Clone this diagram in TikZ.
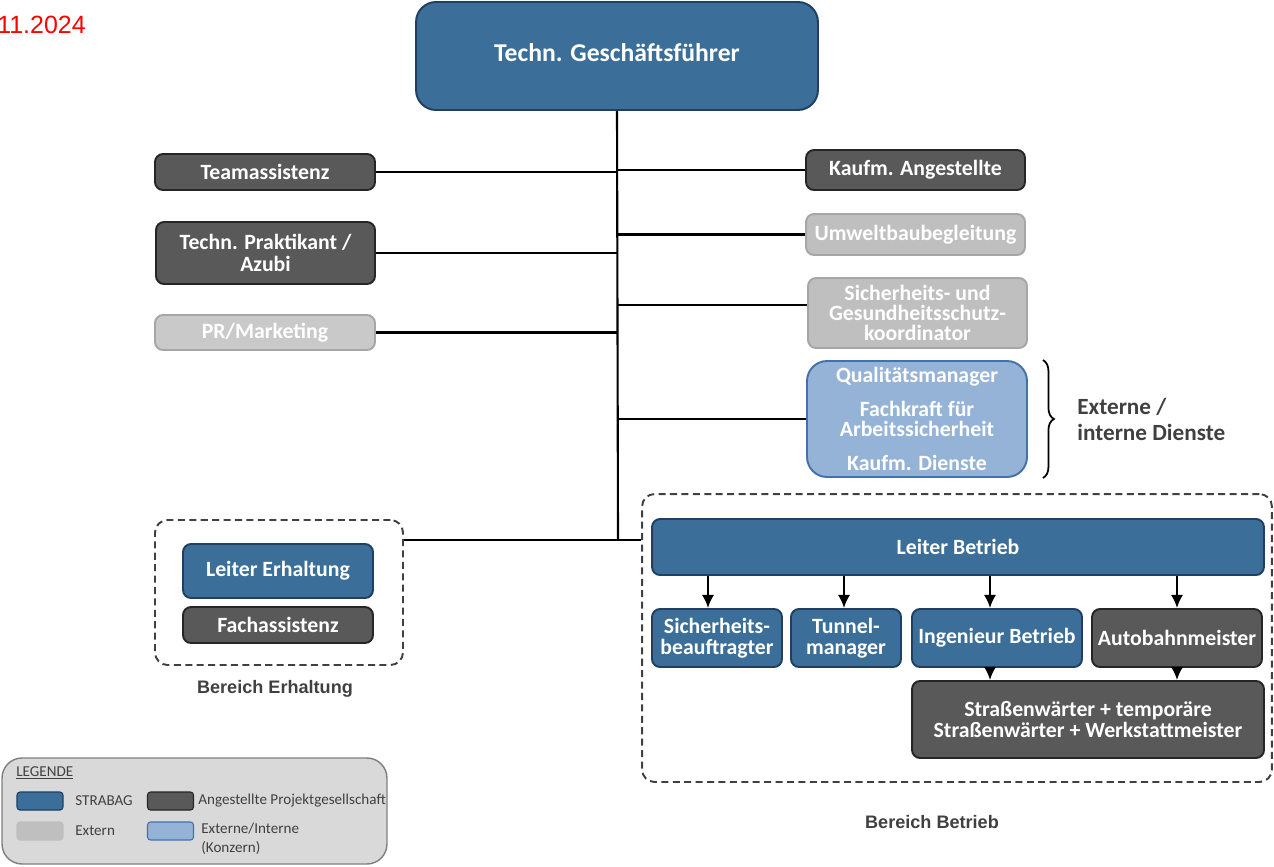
\documentclass[tikz,border=0pt]{standalone}
\usepackage{fontspec}
\setmainfont{Carlito}
\newfontfamily\arialf{Liberation Sans}
\usetikzlibrary{decorations.pathreplacing,arrows.meta}
\definecolor{sblue}{HTML}{3B6E98}
\definecolor{sblueD}{HTML}{1F3F63}
\definecolor{dgray}{HTML}{595959}
\definecolor{dgrayD}{HTML}{262626}
\definecolor{lgrayF}{HTML}{BFBFBF}
\definecolor{lgrayD}{HTML}{A6A6A6}
\definecolor{lblueF}{HTML}{95B3D7}
\definecolor{lblueD}{HTML}{4472A8}
\definecolor{legF}{HTML}{D9D9D9}
\definecolor{legD}{HTML}{7F7F7F}
\definecolor{txtgray}{HTML}{404040}
\begin{document}
\begin{tikzpicture}[x=0.02cm,y=-0.02cm,
  box/.style={rounded corners=0.16cm, draw, line width=1.1pt, align=center, text=white,
    font=\bfseries\fontsize{12.4}{12.4}\selectfont, inner sep=0pt},
  bluebox/.style={box, fill=sblue, draw=sblueD},
  darkbox/.style={box, fill=dgray, draw=dgrayD},
  greybox/.style={box, fill=lgrayF, draw=lgrayD},
  lbluebox/.style={box, fill=lblueF, draw=lblueD},
  conn/.style={line width=1.2pt, black},
  arr/.style={line width=1.2pt, black, -{Latex[length=7.5pt,width=7pt]}},
  area/.style={draw=txtgray, dashed, dash pattern=on 4pt off 2.5pt, line width=1.1pt, rounded corners=0.25cm},
  swatch/.style={rounded corners=0.06cm, line width=0.6pt, minimum width=0.92cm, minimum height=0.36cm, inner sep=0pt},
  legtext/.style={anchor=west, inner sep=0pt, text=txtgray, font=\fontsize{8.6}{10.5}\selectfont, align=left},
  arealabel/.style={font=\arialf\bfseries\fontsize{10.3}{12}\selectfont, text=txtgray}
]
\useasboundingbox (0,0) rectangle (1274,866);

% date
\node[anchor=west, text=red, font=\arialf\fontsize{14.2}{16}\selectfont, inner sep=0pt] (date) at (-3,25) {11.2024};

% title
\node[bluebox, rounded corners=0.4cm, minimum width=8.04cm, minimum height=2.16cm,
  font=\bfseries\fontsize{14.6}{16}\selectfont] (gf) at (617,56) {};
\node[text=white, font=\bfseries\fontsize{14.6}{16}\selectfont, inner sep=0pt] (gft) at (617,53) {Techn. Geschäftsführer};

% left column
\node[darkbox, minimum width=4.4cm, minimum height=0.72cm] (team) at (265,172) {Teamassistenz};
\node[darkbox, minimum width=4.38cm, minimum height=1.24cm] (prakt) at (265.5,253) {Techn. Praktikant /\\Azubi};
\node[greybox, fill=lgrayF!85!white, minimum width=4.4cm, minimum height=0.7cm] (pr) at (265,332.5) {PR/Marketing};

% right column
\node[darkbox, minimum width=4.38cm, minimum height=0.8cm] (kauf) at (915.5,170) {Kaufm. Angestellte};
\node[greybox, minimum width=4.38cm, minimum height=0.82cm] (umw) at (915.5,234.5) {Umweltbaubegleitung};
\node[greybox, minimum width=4.38cm, minimum height=1.4cm, font=\bfseries\fontsize{12.4}{11.4}\selectfont] (sig) at (917.5,313) {Sicherheits- und\\Gesundheitsschutz-\\koordinator};
\node[lbluebox, rounded corners=0.4cm, minimum width=4.4cm, minimum height=2.32cm, font=\bfseries\fontsize{12.4}{11.4}\selectfont] (qual) at (917,419) {Qualitätsmanager\\[0.28cm]Fachkraft für\\Arbeitssicherheit\\[0.28cm]Kaufm. Dienste};

% brace + label
\coordinate (b1) at ([xshift=0.3cm]qual.north east);
\coordinate (b2) at ([xshift=0.3cm]qual.south east);
\draw[line width=1pt, decorate, decoration={brace, amplitude=0.22cm}] (b1) -- (b2);
\node[anchor=west, align=left, inner sep=0pt, text=txtgray, font=\bfseries\fontsize{13.2}{14.8}\selectfont] (ext) at (1077,419) {Externe /\\interne Dienste};

% Bereich Erhaltung
\node[area, minimum width=4.96cm, minimum height=2.9cm] (erh) at (279,592.5) {};
\node[bluebox, minimum width=3.8cm, minimum height=1.08cm] (lerh) at (278,571) {Leiter Erhaltung};
\node[darkbox, minimum width=3.8cm, minimum height=0.72cm] (fach) at (278,625) {Fachassistenz};
\node[arealabel] (berh) at (275,689) {Bereich Erhaltung};

% Bereich Betrieb
\node[area, minimum width=12.6cm, minimum height=5.76cm] (betr) at (957,638) {};
\node[bluebox, minimum width=12.24cm, minimum height=1.12cm] (lb) at (958,547) {Leiter Betrieb};
\node[bluebox, minimum width=2.6cm, minimum height=1.16cm, font=\bfseries\fontsize{12.4}{11.6}\selectfont] (sib) at (717,638) {Sicherheits-\\beauftragter};
\node[bluebox, minimum width=2.2cm, minimum height=1.16cm, font=\bfseries\fontsize{12.4}{11.6}\selectfont] (tun) at (846,638) {Tunnel-\\manager};
\node[bluebox, minimum width=3.4cm, minimum height=1.16cm] (ing) at (997,638) {Ingenieur Betrieb};
\node[darkbox, minimum width=3.4cm, minimum height=1.16cm] (aut) at (1177,638) {Autobahnmeister};
\node[darkbox, minimum width=7.04cm, minimum height=1.54cm, font=\bfseries\fontsize{12.4}{12}\selectfont] (str) at (1088,719.5) {Straßenwärter + temporäre\\Straßenwärter + Werkstattmeister};
\node[arealabel] (bbetr) at (932,822) {Bereich Betrieb};

% trunk and branches
\coordinate (j) at (618,540);
\draw[conn] (gf.south) -- (j);
\draw[conn] (team.east) -- (team.east -| gf.south);
\draw[conn] (prakt.east) -- (prakt.east -| gf.south);
\draw[conn] (pr.east) -- (pr.east -| gf.south);
\draw[conn] (kauf.west -| gf.south) -- (kauf.west);
\draw[conn] (umw.west -| gf.south) -- (umw.west);
\coordinate (sigw) at ([yshift=0.16cm]sig.west);
\draw[conn] (sigw -| gf.south) -- (sigw);
\draw[conn] (qual.west -| gf.south) -- (qual.west);
\draw[conn] (erh.east |- j) -- (betr.west |- j);

% arrows in Betrieb
\coordinate (a1) at ([xshift=-0.18cm]sib.north);
\coordinate (a2) at ([xshift=-0.04cm]tun.north);
\coordinate (a3) at ([xshift=-0.14cm]ing.north);
\coordinate (a4) at ([xshift=-0.14cm]ing.south);
\draw[arr] (lb.south -| a1) -- (a1);
\draw[arr] (lb.south -| a2) -- (a2);
\draw[arr] (lb.south -| a3) -- (a3);
\draw[arr] (lb.south -| aut.north) -- (aut.north);
\draw[arr] (a4) -- (a4 |- str.north);
\draw[arr] (aut.south) -- (aut.south |- str.north);

% legend
\node[draw=legD, fill=legF, line width=0.8pt, rounded corners=0.4cm, minimum width=7.7cm, minimum height=2.12cm, inner sep=0pt] (leg) at (194.5,811) {};
\node[legtext] (legt) at (16,773) {\underline{LEGENDE}};
\node[swatch, fill=sblue, draw=sblueD] (s1) at (40,801) {};
\node[legtext] (t1) at (75,801) {STRABAG};
\node[swatch, fill=dgray, draw=dgrayD] (s2) at (170.5,801) {};
\node[legtext] (t2) at (198,801) {Angestellte Projektgesellschaft};
\node[swatch, fill=lgrayF, draw=lgrayF] (s3) at (40,831) {};
\node[legtext] (t3) at (75,831) {Extern};
\node[swatch, fill=lblueF, draw=lblueD] (s4) at (170.5,831) {};
\node[legtext, anchor=north west] (t4) at (201,823) {Externe/Interne\\(Konzern)};
\end{tikzpicture}
\end{document}
